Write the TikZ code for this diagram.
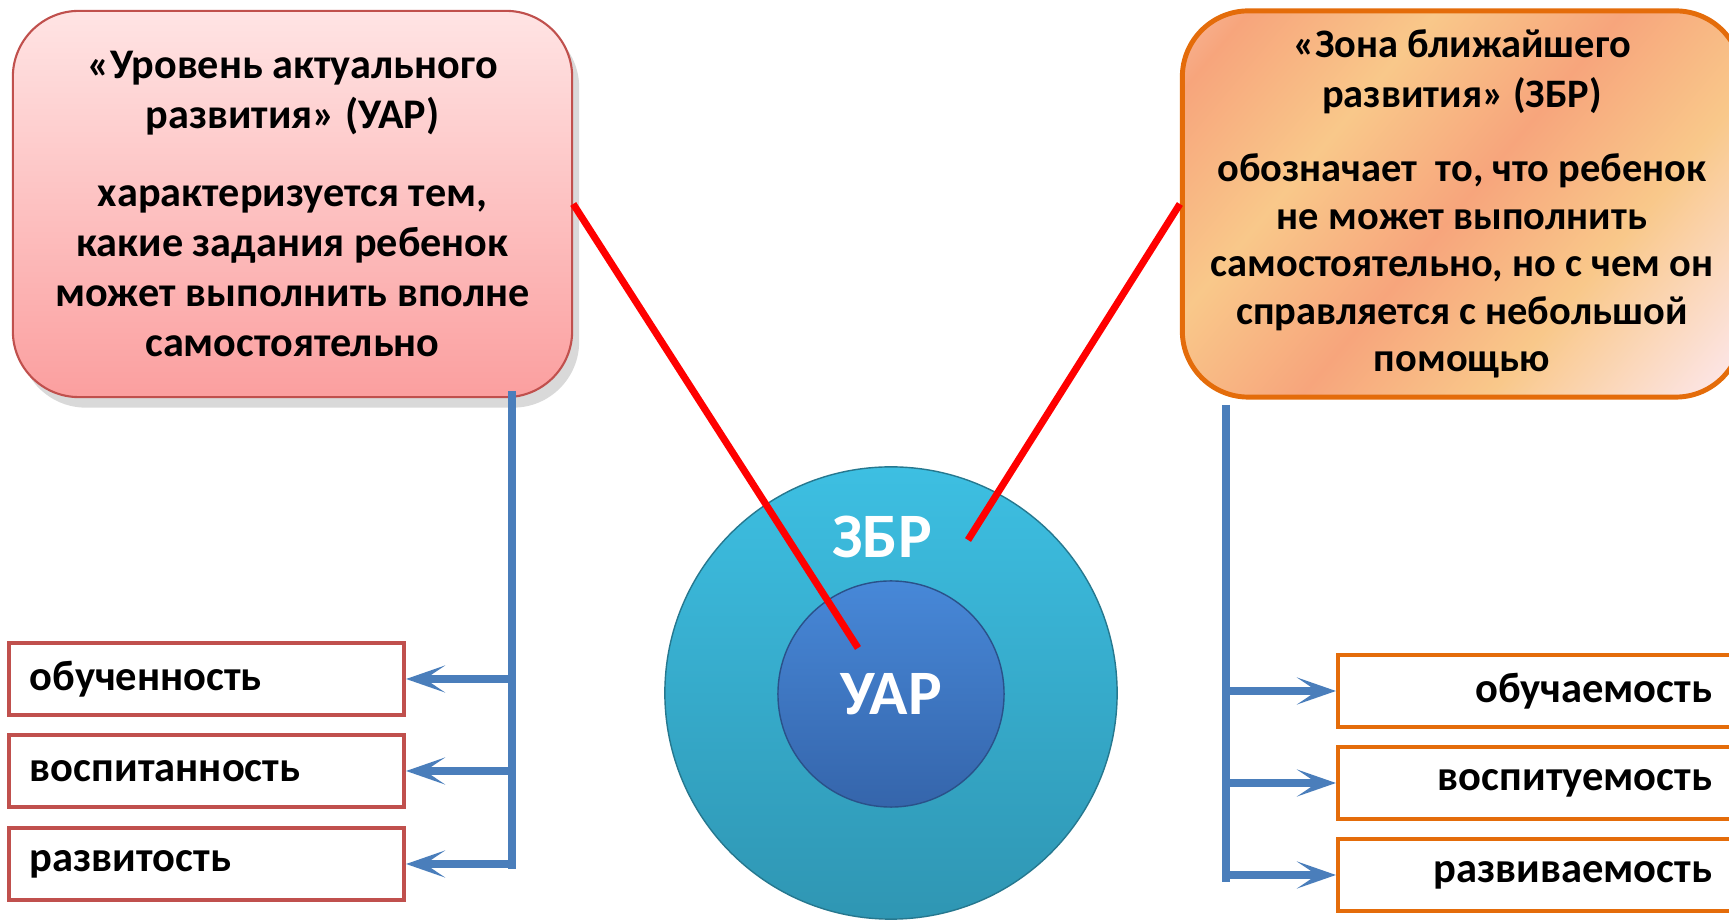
\documentclass[tikz,border=0pt]{standalone}
\usepackage{fontspec}
\setmainfont{Carlito}
\usetikzlibrary{arrows.meta,positioning,shadows}
\definecolor{uarred}{HTML}{C0504D}
\definecolor{uartop}{HTML}{FFE4E4}
\definecolor{uarbottom}{HTML}{FB9F9F}
\definecolor{zbrorange}{HTML}{E46C0A}
\definecolor{zbrpeach}{HTML}{F7A57C}
\definecolor{zbryellow}{HTML}{F9C88A}
\definecolor{zbrpink}{HTML}{FCE4E2}
\definecolor{trunkblue}{HTML}{4A7EBB}
\definecolor{ringtop}{HTML}{3DBFE2}
\definecolor{ringbottom}{HTML}{2F96B3}
\definecolor{coretop}{HTML}{4788D8}
\definecolor{corebottom}{HTML}{3565AB}
\pgfdeclarehorizontalshading{zbrshade}{100bp}{color(0bp)=(zbrpink); color(20bp)=(zbrpeach); color(35bp)=(zbryellow); color(50bp)=(zbrpeach); color(65bp)=(zbryellow); color(82bp)=(zbrpink); color(100bp)=(zbrpeach)}

\begin{document}
\begin{tikzpicture}[x=0.01cm, y=-0.01cm,
  bigbox/.style={rounded corners=0.66cm, minimum width=5.59cm, minimum height=3.86cm,
    align=center, font=\bfseries\fontsize{12}{14.2}\selectfont},
  smallbox/.style={draw, line width=1.1pt, minimum height=0.72cm, inner xsep=0.21cm,
    text width=3.53cm, font=\bfseries\fontsize{12.1}{14}\selectfont},
  trunk/.style={draw=trunkblue, line width=2.1pt},
  branch/.style={trunk, -{Stealth[length=3.9mm, width=2.7mm, inset=2mm]}},
  link/.style={draw=red, line width=2pt}]

\useasboundingbox (0,0) rectangle (1729,922);

\node [bigbox, draw=uarred, line width=0.6pt, top color=uartop, bottom color=uarbottom,
  drop shadow={opacity=0.3, shadow xshift=2pt, shadow yshift=-3pt}] (uarbox) at (292.5,204)
  {«Уровень актуального\\ развития» (УАР)\\[0.28cm]
   характеризуется тем,\\ какие задания ребенок\\ может выполнить вполне\\ самостоятельно};
\node [bigbox, draw=zbrorange, line width=1.4pt, shading=zbrshade, shading angle=-40,
  font=\bfseries\fontsize{11.5}{13.5}\selectfont] (zbrbox) at (1462,204)
  {«Зона ближайшего\\[0.025cm] развития» (ЗБР)\\[0.27cm]
   обозначает\ \ то, что ребенок\\ не может выполнить\\ самостоятельно, но с чем он\\ справляется с небольшой\\ помощью};

\node [circle, minimum size=4.52cm, top color=ringtop, bottom color=ringbottom,
  draw=ringbottom!80!black, line width=0.4pt] (zbr) at (891,693) {};
\node [text=white, font=\bfseries\fontsize{18}{20}\selectfont] (zbrname) at (882,537) {ЗБР};
\node [circle, minimum size=2.26cm, top color=coretop, bottom color=corebottom,
  draw=corebottom!80!black, line width=0.4pt, text=white,
  font=\bfseries\fontsize{18}{20}\selectfont] (uar) at (891,694) {УАР};

\node [smallbox, draw=uarred, align=left] (obuch) at (206.5,679) {обученность};
\node [smallbox, draw=uarred, align=left] (vospit) at (206.5,771) {воспитанность};
\node [smallbox, draw=uarred, align=left] (razvit) at (206.5,864) {развитость};

\node [smallbox, draw=zbrorange, align=right] (obuchaem) at (1535.5,691) {обучаемость};
\node [smallbox, draw=zbrorange, align=right] (vospituem) at (1535.5,783) {воспитуемость};
\node [smallbox, draw=zbrorange, align=right] (razvivaem) at (1535.5,875) {развиваемость};

\coordinate (ltop) at (512,391);
\coordinate (lbot) at (512,869);
\path [trunk] (ltop) edge (lbot);
\draw [branch] (ltop |- obuch.east) -- (obuch.east);
\draw [branch] (ltop |- vospit.east) -- (vospit.east);
\draw [branch] (ltop |- razvit.east) -- (razvit.east);

\coordinate (rtop) at (1226,405);
\coordinate (rbot) at (1226,882);
\path [trunk] (rtop) edge (rbot);
\draw [branch] (rtop |- obuchaem.west) -- (obuchaem.west);
\draw [branch] (rtop |- vospituem.west) -- (vospituem.west);
\draw [branch] (rtop |- razvivaem.west) -- (razvivaem.west);

\coordinate (uartip) at (858,648);
\coordinate (zbrtip) at (968,540);
\draw [link] (uarbox.east) -- (uartip);
\draw [link] (zbrbox.west) -- (zbrtip);

\end{tikzpicture}
\end{document}
